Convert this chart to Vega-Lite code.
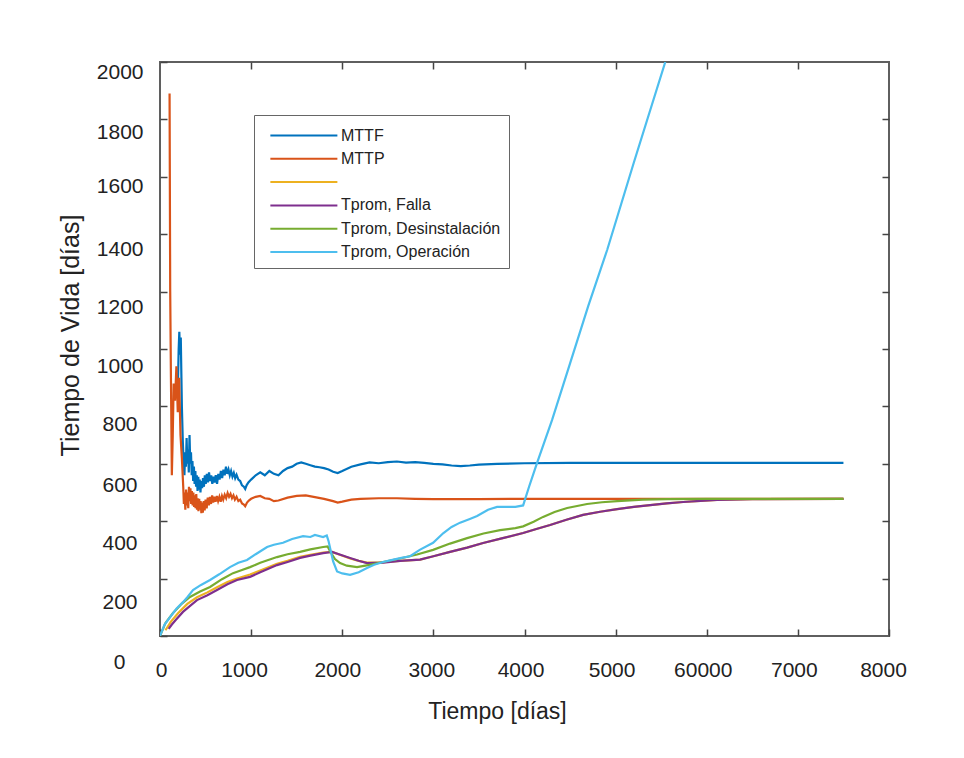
{
  "$schema": "https://vega.github.io/schema/vega-lite/v6.json",
  "width": 729,
  "height": 574,
  "autosize": {"type": "none"},
  "padding": {"left": 160, "top": 62, "right": 75, "bottom": 122},
  "background": "white",
  "config": {
    "view": {"stroke": "#5f5f5f", "strokeWidth": 2},
    "font": "Liberation Sans"
  },
  "datasets": {
    "series": [
      {"s": "MTTF", "t": 195, "v": 850}, {"s": "MTTF", "t": 205, "v": 1000}, {"s": "MTTF", "t": 212, "v": 1060}, {"s": "MTTF", "t": 220, "v": 980}, {"s": "MTTF", "t": 228, "v": 1040}, {"s": "MTTF", "t": 240, "v": 800}, {"s": "MTTF", "t": 250, "v": 680},
      {"s": "MTTF", "t": 260, "v": 600}, {"s": "MTTF", "t": 268, "v": 560}, {"s": "MTTF", "t": 276, "v": 640}, {"s": "MTTF", "t": 284, "v": 590}, {"s": "MTTF", "t": 292, "v": 690}, {"s": "MTTF", "t": 300, "v": 600}, {"s": "MTTF", "t": 308, "v": 650}, {"s": "MTTF", "t": 316, "v": 570}, {"s": "MTTF", "t": 324, "v": 700}, {"s": "MTTF", "t": 332, "v": 600}, {"s": "MTTF", "t": 340, "v": 640}, {"s": "MTTF", "t": 348, "v": 560}, {"s": "MTTF", "t": 356, "v": 610}, {"s": "MTTF", "t": 364, "v": 540}, {"s": "MTTF", "t": 372, "v": 590}, {"s": "MTTF", "t": 380, "v": 530}, {"s": "MTTF", "t": 388, "v": 575}, {"s": "MTTF", "t": 396, "v": 520}, {"s": "MTTF", "t": 404, "v": 560}, {"s": "MTTF", "t": 412, "v": 505}, {"s": "MTTF", "t": 420, "v": 555}, {"s": "MTTF", "t": 428, "v": 510}, {"s": "MTTF", "t": 436, "v": 545}, {"s": "MTTF", "t": 444, "v": 500}, {"s": "MTTF", "t": 452, "v": 540}, {"s": "MTTF", "t": 462, "v": 515}, {"s": "MTTF", "t": 472, "v": 550}, {"s": "MTTF", "t": 482, "v": 520}, {"s": "MTTF", "t": 492, "v": 560}, {"s": "MTTF", "t": 502, "v": 530}, {"s": "MTTF", "t": 514, "v": 565}, {"s": "MTTF", "t": 526, "v": 535}, {"s": "MTTF", "t": 538, "v": 570}, {"s": "MTTF", "t": 550, "v": 540}, {"s": "MTTF", "t": 562, "v": 560}, {"s": "MTTF", "t": 574, "v": 530}, {"s": "MTTF", "t": 586, "v": 555}, {"s": "MTTF", "t": 598, "v": 535}, {"s": "MTTF", "t": 612, "v": 560}, {"s": "MTTF", "t": 626, "v": 530}, {"s": "MTTF", "t": 640, "v": 565}, {"s": "MTTF", "t": 654, "v": 545}, {"s": "MTTF", "t": 668, "v": 575}, {"s": "MTTF", "t": 682, "v": 550}, {"s": "MTTF", "t": 696, "v": 580}, {"s": "MTTF", "t": 710, "v": 560}, {"s": "MTTF", "t": 724, "v": 590}, {"s": "MTTF", "t": 738, "v": 565}, {"s": "MTTF", "t": 752, "v": 580}, {"s": "MTTF", "t": 766, "v": 560}, {"s": "MTTF", "t": 780, "v": 575}, {"s": "MTTF", "t": 795, "v": 555}, {"s": "MTTF", "t": 810, "v": 568}, {"s": "MTTF", "t": 825, "v": 550}, {"s": "MTTF", "t": 840, "v": 562}, {"s": "MTTF", "t": 860, "v": 545}, {"s": "MTTF", "t": 880, "v": 540}, {"s": "MTTF", "t": 900, "v": 525}, {"s": "MTTF", "t": 920, "v": 520}, {"s": "MTTF", "t": 935, "v": 512}, {"s": "MTTF", "t": 950, "v": 525}, {"s": "MTTF", "t": 970, "v": 535},
      {"s": "MTTF", "t": 1000, "v": 545}, {"s": "MTTF", "t": 1050, "v": 560}, {"s": "MTTF", "t": 1100, "v": 570}, {"s": "MTTF", "t": 1150, "v": 560}, {"s": "MTTF", "t": 1200, "v": 575}, {"s": "MTTF", "t": 1250, "v": 565}, {"s": "MTTF", "t": 1300, "v": 560}, {"s": "MTTF", "t": 1350, "v": 575}, {"s": "MTTF", "t": 1400, "v": 585}, {"s": "MTTF", "t": 1450, "v": 590}, {"s": "MTTF", "t": 1500, "v": 600}, {"s": "MTTF", "t": 1550, "v": 605}, {"s": "MTTF", "t": 1600, "v": 600}, {"s": "MTTF", "t": 1650, "v": 595}, {"s": "MTTF", "t": 1700, "v": 590}, {"s": "MTTF", "t": 1750, "v": 588}, {"s": "MTTF", "t": 1800, "v": 585}, {"s": "MTTF", "t": 1850, "v": 580}, {"s": "MTTF", "t": 1900, "v": 572}, {"s": "MTTF", "t": 1950, "v": 568}, {"s": "MTTF", "t": 2000, "v": 575}, {"s": "MTTF", "t": 2100, "v": 590}, {"s": "MTTF", "t": 2200, "v": 598}, {"s": "MTTF", "t": 2300, "v": 605}, {"s": "MTTF", "t": 2400, "v": 602}, {"s": "MTTF", "t": 2500, "v": 606}, {"s": "MTTF", "t": 2600, "v": 608}, {"s": "MTTF", "t": 2700, "v": 604}, {"s": "MTTF", "t": 2800, "v": 606}, {"s": "MTTF", "t": 2900, "v": 603}, {"s": "MTTF", "t": 3000, "v": 600}, {"s": "MTTF", "t": 3100, "v": 598}, {"s": "MTTF", "t": 3200, "v": 594}, {"s": "MTTF", "t": 3300, "v": 592}, {"s": "MTTF", "t": 3400, "v": 594}, {"s": "MTTF", "t": 3500, "v": 597}, {"s": "MTTF", "t": 3700, "v": 600}, {"s": "MTTF", "t": 4000, "v": 602}, {"s": "MTTF", "t": 4500, "v": 603}, {"s": "MTTF", "t": 5000, "v": 603}, {"s": "MTTF", "t": 6000, "v": 603}, {"s": "MTTF", "t": 7000, "v": 603}, {"s": "MTTF", "t": 7500, "v": 603},

      {"s": "MTTP", "t": 105, "v": 1890}, {"s": "MTTP", "t": 112, "v": 1200}, {"s": "MTTP", "t": 120, "v": 900}, {"s": "MTTP", "t": 130, "v": 560}, {"s": "MTTP", "t": 140, "v": 700}, {"s": "MTTP", "t": 150, "v": 880}, {"s": "MTTP", "t": 165, "v": 820}, {"s": "MTTP", "t": 180, "v": 940}, {"s": "MTTP", "t": 195, "v": 780}, {"s": "MTTP", "t": 210, "v": 900}, {"s": "MTTP", "t": 225, "v": 700}, {"s": "MTTP", "t": 240, "v": 620},
      {"s": "MTTP", "t": 255, "v": 520}, {"s": "MTTP", "t": 262, "v": 460}, {"s": "MTTP", "t": 270, "v": 500}, {"s": "MTTP", "t": 278, "v": 440}, {"s": "MTTP", "t": 286, "v": 510}, {"s": "MTTP", "t": 294, "v": 455}, {"s": "MTTP", "t": 302, "v": 500}, {"s": "MTTP", "t": 310, "v": 445}, {"s": "MTTP", "t": 318, "v": 520}, {"s": "MTTP", "t": 326, "v": 470}, {"s": "MTTP", "t": 334, "v": 515}, {"s": "MTTP", "t": 342, "v": 460}, {"s": "MTTP", "t": 350, "v": 505}, {"s": "MTTP", "t": 358, "v": 455}, {"s": "MTTP", "t": 366, "v": 500}, {"s": "MTTP", "t": 374, "v": 450}, {"s": "MTTP", "t": 382, "v": 490}, {"s": "MTTP", "t": 390, "v": 445}, {"s": "MTTP", "t": 398, "v": 495}, {"s": "MTTP", "t": 406, "v": 440}, {"s": "MTTP", "t": 414, "v": 480}, {"s": "MTTP", "t": 422, "v": 435}, {"s": "MTTP", "t": 430, "v": 478}, {"s": "MTTP", "t": 438, "v": 440}, {"s": "MTTP", "t": 446, "v": 470}, {"s": "MTTP", "t": 454, "v": 428}, {"s": "MTTP", "t": 462, "v": 465}, {"s": "MTTP", "t": 470, "v": 430}, {"s": "MTTP", "t": 480, "v": 470}, {"s": "MTTP", "t": 490, "v": 438}, {"s": "MTTP", "t": 500, "v": 475}, {"s": "MTTP", "t": 512, "v": 445}, {"s": "MTTP", "t": 524, "v": 482}, {"s": "MTTP", "t": 536, "v": 455}, {"s": "MTTP", "t": 548, "v": 485}, {"s": "MTTP", "t": 560, "v": 460}, {"s": "MTTP", "t": 572, "v": 490}, {"s": "MTTP", "t": 584, "v": 465}, {"s": "MTTP", "t": 596, "v": 485}, {"s": "MTTP", "t": 610, "v": 468}, {"s": "MTTP", "t": 624, "v": 488}, {"s": "MTTP", "t": 638, "v": 470}, {"s": "MTTP", "t": 652, "v": 485}, {"s": "MTTP", "t": 666, "v": 468}, {"s": "MTTP", "t": 680, "v": 488}, {"s": "MTTP", "t": 694, "v": 475}, {"s": "MTTP", "t": 710, "v": 492}, {"s": "MTTP", "t": 726, "v": 480}, {"s": "MTTP", "t": 742, "v": 498}, {"s": "MTTP", "t": 758, "v": 485}, {"s": "MTTP", "t": 774, "v": 495}, {"s": "MTTP", "t": 790, "v": 480}, {"s": "MTTP", "t": 806, "v": 490}, {"s": "MTTP", "t": 822, "v": 475}, {"s": "MTTP", "t": 840, "v": 485}, {"s": "MTTP", "t": 860, "v": 470}, {"s": "MTTP", "t": 880, "v": 475}, {"s": "MTTP", "t": 900, "v": 462}, {"s": "MTTP", "t": 920, "v": 458}, {"s": "MTTP", "t": 935, "v": 452}, {"s": "MTTP", "t": 955, "v": 465}, {"s": "MTTP", "t": 975, "v": 472},
      {"s": "MTTP", "t": 1000, "v": 478}, {"s": "MTTP", "t": 1050, "v": 485}, {"s": "MTTP", "t": 1100, "v": 488}, {"s": "MTTP", "t": 1150, "v": 480}, {"s": "MTTP", "t": 1200, "v": 478}, {"s": "MTTP", "t": 1250, "v": 470}, {"s": "MTTP", "t": 1300, "v": 472}, {"s": "MTTP", "t": 1400, "v": 482}, {"s": "MTTP", "t": 1500, "v": 488}, {"s": "MTTP", "t": 1600, "v": 490}, {"s": "MTTP", "t": 1700, "v": 484}, {"s": "MTTP", "t": 1800, "v": 478}, {"s": "MTTP", "t": 1900, "v": 470}, {"s": "MTTP", "t": 1950, "v": 465}, {"s": "MTTP", "t": 2000, "v": 468}, {"s": "MTTP", "t": 2100, "v": 475}, {"s": "MTTP", "t": 2200, "v": 478}, {"s": "MTTP", "t": 2400, "v": 480}, {"s": "MTTP", "t": 2600, "v": 480}, {"s": "MTTP", "t": 2800, "v": 478}, {"s": "MTTP", "t": 3000, "v": 477}, {"s": "MTTP", "t": 3500, "v": 477}, {"s": "MTTP", "t": 4000, "v": 478}, {"s": "MTTP", "t": 5000, "v": 478}, {"s": "MTTP", "t": 6000, "v": 478}, {"s": "MTTP", "t": 7500, "v": 478},

      {"s": " ", "t": 60, "v": 20}, {"s": " ", "t": 120, "v": 50}, {"s": " ", "t": 200, "v": 80}, {"s": " ", "t": 300, "v": 112}, {"s": " ", "t": 406, "v": 135}, {"s": " ", "t": 520, "v": 152}, {"s": " ", "t": 626, "v": 170}, {"s": " ", "t": 740, "v": 188}, {"s": " ", "t": 845, "v": 200}, {"s": " ", "t": 988, "v": 214}, {"s": " ", "t": 1100, "v": 228}, {"s": " ", "t": 1284, "v": 252}, {"s": " ", "t": 1400, "v": 262}, {"s": " ", "t": 1537, "v": 276}, {"s": " ", "t": 1650, "v": 283}, {"s": " ", "t": 1790, "v": 291}, {"s": " ", "t": 1888, "v": 293}, {"s": " ", "t": 1980, "v": 282}, {"s": " ", "t": 2086, "v": 270}, {"s": " ", "t": 2180, "v": 262}, {"s": " ", "t": 2272, "v": 256}, {"s": " ", "t": 2450, "v": 257}, {"s": " ", "t": 2634, "v": 262}, {"s": " ", "t": 2854, "v": 266}, {"s": " ", "t": 3000, "v": 278}, {"s": " ", "t": 3183, "v": 293}, {"s": " ", "t": 3370, "v": 308}, {"s": " ", "t": 3546, "v": 324}, {"s": " ", "t": 3750, "v": 340}, {"s": " ", "t": 3985, "v": 359}, {"s": " ", "t": 4130, "v": 373}, {"s": " ", "t": 4281, "v": 387}, {"s": " ", "t": 4460, "v": 405}, {"s": " ", "t": 4643, "v": 422}, {"s": " ", "t": 4830, "v": 433}, {"s": " ", "t": 5017, "v": 442}, {"s": " ", "t": 5200, "v": 450}, {"s": " ", "t": 5379, "v": 456}, {"s": " ", "t": 5560, "v": 462}, {"s": " ", "t": 5741, "v": 467}, {"s": " ", "t": 5930, "v": 471}, {"s": " ", "t": 6114, "v": 474}, {"s": " ", "t": 6500, "v": 477}, {"s": " ", "t": 7500, "v": 478},

      {"s": "Tprom, Falla", "t": 95, "v": 25}, {"s": "Tprom, Falla", "t": 130, "v": 40}, {"s": "Tprom, Falla", "t": 170, "v": 55}, {"s": "Tprom, Falla", "t": 252, "v": 84}, {"s": "Tprom, Falla", "t": 330, "v": 105}, {"s": "Tprom, Falla", "t": 406, "v": 125}, {"s": "Tprom, Falla", "t": 520, "v": 142}, {"s": "Tprom, Falla", "t": 626, "v": 160}, {"s": "Tprom, Falla", "t": 740, "v": 180}, {"s": "Tprom, Falla", "t": 845, "v": 195}, {"s": "Tprom, Falla", "t": 988, "v": 206}, {"s": "Tprom, Falla", "t": 1100, "v": 222}, {"s": "Tprom, Falla", "t": 1284, "v": 247}, {"s": "Tprom, Falla", "t": 1400, "v": 258}, {"s": "Tprom, Falla", "t": 1537, "v": 272}, {"s": "Tprom, Falla", "t": 1650, "v": 280}, {"s": "Tprom, Falla", "t": 1790, "v": 289}, {"s": "Tprom, Falla", "t": 1888, "v": 293}, {"s": "Tprom, Falla", "t": 1980, "v": 283}, {"s": "Tprom, Falla", "t": 2086, "v": 272}, {"s": "Tprom, Falla", "t": 2180, "v": 262}, {"s": "Tprom, Falla", "t": 2272, "v": 254}, {"s": "Tprom, Falla", "t": 2450, "v": 256}, {"s": "Tprom, Falla", "t": 2634, "v": 262}, {"s": "Tprom, Falla", "t": 2854, "v": 266}, {"s": "Tprom, Falla", "t": 3000, "v": 278}, {"s": "Tprom, Falla", "t": 3183, "v": 293}, {"s": "Tprom, Falla", "t": 3370, "v": 308}, {"s": "Tprom, Falla", "t": 3546, "v": 324}, {"s": "Tprom, Falla", "t": 3750, "v": 340}, {"s": "Tprom, Falla", "t": 3985, "v": 359}, {"s": "Tprom, Falla", "t": 4130, "v": 373}, {"s": "Tprom, Falla", "t": 4281, "v": 387}, {"s": "Tprom, Falla", "t": 4460, "v": 405}, {"s": "Tprom, Falla", "t": 4643, "v": 422}, {"s": "Tprom, Falla", "t": 4830, "v": 433}, {"s": "Tprom, Falla", "t": 5017, "v": 442}, {"s": "Tprom, Falla", "t": 5200, "v": 450}, {"s": "Tprom, Falla", "t": 5379, "v": 456}, {"s": "Tprom, Falla", "t": 5560, "v": 462}, {"s": "Tprom, Falla", "t": 5741, "v": 467}, {"s": "Tprom, Falla", "t": 5930, "v": 471}, {"s": "Tprom, Falla", "t": 6114, "v": 474}, {"s": "Tprom, Falla", "t": 6500, "v": 477}, {"s": "Tprom, Falla", "t": 7500, "v": 478},

      {"s": "Tprom, Desinstalación", "t": 0, "v": 0}, {"s": "Tprom, Desinstalación", "t": 60, "v": 45}, {"s": "Tprom, Desinstalación", "t": 143, "v": 80}, {"s": "Tprom, Desinstalación", "t": 230, "v": 110}, {"s": "Tprom, Desinstalación", "t": 329, "v": 136}, {"s": "Tprom, Desinstalación", "t": 440, "v": 155}, {"s": "Tprom, Desinstalación", "t": 549, "v": 171}, {"s": "Tprom, Desinstalación", "t": 680, "v": 198}, {"s": "Tprom, Desinstalación", "t": 801, "v": 219}, {"s": "Tprom, Desinstalación", "t": 900, "v": 230}, {"s": "Tprom, Desinstalación", "t": 988, "v": 240}, {"s": "Tprom, Desinstalación", "t": 1100, "v": 255}, {"s": "Tprom, Desinstalación", "t": 1284, "v": 275}, {"s": "Tprom, Desinstalación", "t": 1400, "v": 285}, {"s": "Tprom, Desinstalación", "t": 1537, "v": 293}, {"s": "Tprom, Desinstalación", "t": 1650, "v": 302}, {"s": "Tprom, Desinstalación", "t": 1790, "v": 310}, {"s": "Tprom, Desinstalación", "t": 1840, "v": 312}, {"s": "Tprom, Desinstalación", "t": 1866, "v": 295}, {"s": "Tprom, Desinstalación", "t": 1920, "v": 268}, {"s": "Tprom, Desinstalación", "t": 1976, "v": 254}, {"s": "Tprom, Desinstalación", "t": 2050, "v": 245}, {"s": "Tprom, Desinstalación", "t": 2162, "v": 240}, {"s": "Tprom, Desinstalación", "t": 2300, "v": 248}, {"s": "Tprom, Desinstalación", "t": 2448, "v": 258}, {"s": "Tprom, Desinstalación", "t": 2634, "v": 270}, {"s": "Tprom, Desinstalación", "t": 2821, "v": 284}, {"s": "Tprom, Desinstalación", "t": 2997, "v": 300}, {"s": "Tprom, Desinstalación", "t": 3183, "v": 322}, {"s": "Tprom, Desinstalación", "t": 3370, "v": 341}, {"s": "Tprom, Desinstalación", "t": 3550, "v": 357}, {"s": "Tprom, Desinstalación", "t": 3732, "v": 369}, {"s": "Tprom, Desinstalación", "t": 3900, "v": 376}, {"s": "Tprom, Desinstalación", "t": 3985, "v": 382}, {"s": "Tprom, Desinstalación", "t": 4100, "v": 398}, {"s": "Tprom, Desinstalación", "t": 4204, "v": 415}, {"s": "Tprom, Desinstalación", "t": 4330, "v": 432}, {"s": "Tprom, Desinstalación", "t": 4468, "v": 446}, {"s": "Tprom, Desinstalación", "t": 4687, "v": 460}, {"s": "Tprom, Desinstalación", "t": 4850, "v": 466}, {"s": "Tprom, Desinstalación", "t": 5017, "v": 470}, {"s": "Tprom, Desinstalación", "t": 5300, "v": 475}, {"s": "Tprom, Desinstalación", "t": 5565, "v": 477}, {"s": "Tprom, Desinstalación", "t": 6000, "v": 478}, {"s": "Tprom, Desinstalación", "t": 7500, "v": 478},

      {"s": "Tprom, Operación", "t": 0, "v": 0}, {"s": "Tprom, Operación", "t": 50, "v": 40}, {"s": "Tprom, Operación", "t": 110, "v": 66}, {"s": "Tprom, Operación", "t": 180, "v": 95}, {"s": "Tprom, Operación", "t": 252, "v": 118}, {"s": "Tprom, Operación", "t": 300, "v": 135}, {"s": "Tprom, Operación", "t": 362, "v": 160}, {"s": "Tprom, Operación", "t": 450, "v": 178}, {"s": "Tprom, Operación", "t": 549, "v": 195}, {"s": "Tprom, Operación", "t": 650, "v": 215}, {"s": "Tprom, Operación", "t": 768, "v": 240}, {"s": "Tprom, Operación", "t": 860, "v": 255}, {"s": "Tprom, Operación", "t": 955, "v": 265}, {"s": "Tprom, Operación", "t": 1050, "v": 285}, {"s": "Tprom, Operación", "t": 1175, "v": 310}, {"s": "Tprom, Operación", "t": 1250, "v": 318}, {"s": "Tprom, Operación", "t": 1350, "v": 325}, {"s": "Tprom, Operación", "t": 1450, "v": 338}, {"s": "Tprom, Operación", "t": 1570, "v": 348}, {"s": "Tprom, Operación", "t": 1650, "v": 345}, {"s": "Tprom, Operación", "t": 1700, "v": 352}, {"s": "Tprom, Operación", "t": 1790, "v": 345}, {"s": "Tprom, Operación", "t": 1830, "v": 350}, {"s": "Tprom, Operación", "t": 1850, "v": 330}, {"s": "Tprom, Operación", "t": 1900, "v": 260}, {"s": "Tprom, Operación", "t": 1943, "v": 225}, {"s": "Tprom, Operación", "t": 2000, "v": 218}, {"s": "Tprom, Operación", "t": 2086, "v": 213}, {"s": "Tprom, Operación", "t": 2180, "v": 222}, {"s": "Tprom, Operación", "t": 2272, "v": 237}, {"s": "Tprom, Operación", "t": 2350, "v": 248}, {"s": "Tprom, Operación", "t": 2448, "v": 258}, {"s": "Tprom, Operación", "t": 2550, "v": 265}, {"s": "Tprom, Operación", "t": 2650, "v": 272}, {"s": "Tprom, Operación", "t": 2744, "v": 278}, {"s": "Tprom, Operación", "t": 2850, "v": 300}, {"s": "Tprom, Operación", "t": 2997, "v": 325}, {"s": "Tprom, Operación", "t": 3107, "v": 358}, {"s": "Tprom, Operación", "t": 3200, "v": 380}, {"s": "Tprom, Operación", "t": 3293, "v": 395}, {"s": "Tprom, Operación", "t": 3400, "v": 408}, {"s": "Tprom, Operación", "t": 3480, "v": 418}, {"s": "Tprom, Operación", "t": 3600, "v": 440}, {"s": "Tprom, Operación", "t": 3699, "v": 450}, {"s": "Tprom, Operación", "t": 3800, "v": 450}, {"s": "Tprom, Operación", "t": 3900, "v": 450}, {"s": "Tprom, Operación", "t": 3985, "v": 455}, {"s": "Tprom, Operación", "t": 4050, "v": 520}, {"s": "Tprom, Operación", "t": 4138, "v": 603}, {"s": "Tprom, Operación", "t": 4303, "v": 753}, {"s": "Tprom, Operación", "t": 4500, "v": 950}, {"s": "Tprom, Operación", "t": 4700, "v": 1150}, {"s": "Tprom, Operación", "t": 4907, "v": 1345}, {"s": "Tprom, Operación", "t": 5200, "v": 1650}, {"s": "Tprom, Operación", "t": 5545, "v": 2000}
    ]
  },
  "data": {"name": "series"},
  "layer": [
    {
      "mark": {"type": "line", "strokeWidth": 2.2, "clip": true},
      "encoding": {
        "x": {
          "field": "t", "type": "quantitative",
          "scale": {"domain": [0, 8000], "nice": false, "zero": false},
          "axis": {
            "orient": "bottom", "grid": false, "domain": false,
            "values": [0, 1000, 2000, 3000, 4000, 5000, 6000, 7000, 8000],
            "format": "d",
            "labelExpr": "datum.value == 6000 ? '60000' : datum.label",
            "tickSize": -7, "tickColor": "#444", "tickWidth": 1.5,
            "labelFlush": false, "labelOverlap": false,
            "labelFont": "Liberation Sans", "labelFontSize": 21, "labelColor": "#222",
            "labelPadding": 30,
            "labelOffset": {"condition": [
              {"test": "datum.value == 0", "value": 1},
              {"test": "datum.value == 1000", "value": -7},
              {"test": "datum.value == 2000", "value": -5},
              {"test": "datum.value == 3000", "value": -2},
              {"test": "datum.value == 8000", "value": -6}
            ], "value": -4},
            "title": "Tiempo [días]", "titleFont": "Liberation Sans", "titleFontSize": 23,
            "titleFontWeight": "normal", "titleColor": "#222",
            "titleX": 337, "titleY": 75, "titleAlign": "center", "titleBaseline": "middle"
          }
        },
        "y": {
          "field": "v", "type": "quantitative",
          "scale": {"domain": [0, 2000], "nice": false},
          "axis": {
            "orient": "left", "grid": false, "domain": false,
            "values": [0, 200, 400, 600, 800, 1000, 1200, 1400, 1600, 1800, 2000],
            "format": "d",
            "tickSize": -7, "tickColor": "#444", "tickWidth": 1.5,
            "labelFlush": false, "labelOverlap": false,
            "labelFont": "Liberation Sans", "labelFontSize": 21, "labelColor": "#222",
            "labelPadding": {"condition": [{"test": "datum.value == 0", "value": 42}, {"test": "datum.value < 1000", "value": 30}], "value": 24},
            "labelOffset": {"condition": [
              {"test": "datum.value == 2000", "value": 10},
              {"test": "datum.value == 1800", "value": 13},
              {"test": "datum.value == 1600", "value": 10},
              {"test": "datum.value == 1400", "value": 15},
              {"test": "datum.value == 1200", "value": 16},
              {"test": "datum.value == 1000", "value": 17},
              {"test": "datum.value == 800", "value": 18},
              {"test": "datum.value == 600", "value": 22},
              {"test": "datum.value == 400", "value": 22},
              {"test": "datum.value == 200", "value": 24}
            ], "value": 26},
            "title": "Tiempo de Vida [días]", "titleFont": "Liberation Sans", "titleFontSize": 25,
            "titleFontWeight": "normal", "titleColor": "#222",
            "titleX": -90, "titleY": 273, "titleAngle": -90, "titleAlign": "center", "titleBaseline": "middle"
          }
        },
        "color": {
          "field": "s", "type": "nominal",
          "scale": {
            "domain": ["MTTF", "MTTP", " ", "Tprom, Falla", "Tprom, Desinstalación", "Tprom, Operación"],
            "range": ["#0072BD", "#D95319", "#EDB120", "#7E2F8E", "#77AC30", "#4DBEEE"]
          },
          "legend": {
            "orient": "none", "legendX": 94, "legendY": 53,
            "title": null,
            "symbolType": "M-0.37,0H5.63", "symbolSize": 499, "symbolStrokeWidth": 2,
            "labelFont": "Liberation Sans", "labelFontSize": 16, "labelColor": "#222",
            "labelLimit": 400,
            "labelOffset": 54, "rowPadding": 2.3,
            "padding": 8, "strokeColor": "#666", "fillColor": "white"
          }
        }
      }
    },
    {
      "mark": {"type": "point", "opacity": 0},
      "encoding": {
        "x": {
          "field": "t", "type": "quantitative",
          "axis": {
            "orient": "top", "grid": false, "domain": false, "labels": false, "title": null,
            "values": [1000, 2000, 3000, 4000, 5000, 6000, 7000],
            "tickSize": -7, "tickColor": "#444", "tickWidth": 1.5
          }
        },
        "y": {
          "field": "v", "type": "quantitative",
          "axis": {
            "orient": "right", "grid": false, "domain": false, "labels": false, "title": null,
            "values": [200, 400, 600, 800, 1000, 1200, 1400, 1600, 1800],
            "tickSize": -7, "tickColor": "#444", "tickWidth": 1.5
          }
        }
      }
    }
  ],
  "resolve": {"axis": {"x": "independent", "y": "independent"}}
}
